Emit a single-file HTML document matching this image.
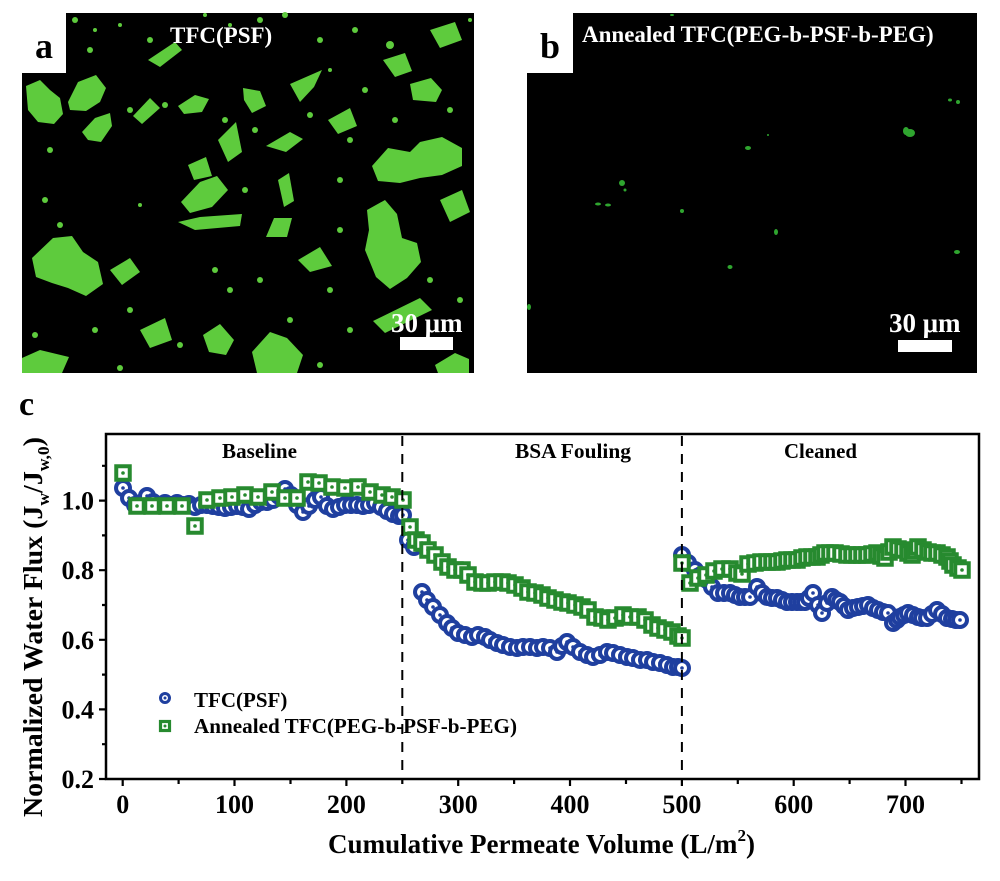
<!DOCTYPE html>
<html><head><meta charset="utf-8"><style>
html,body{margin:0;padding:0;background:#fff}
svg{display:block}
text{font-family:"Liberation Serif","DejaVu Serif",serif;font-weight:bold}
</style></head><body>
<svg width="1000" height="881" viewBox="0 0 1000 881" xmlns="http://www.w3.org/2000/svg">
<defs>
<g id="c"><circle r="7" fill="#fff" stroke="#1f3f9f" stroke-width="4"/><circle r="1.8" fill="#1f3f9f"/></g>
<g id="s"><rect x="-6.75" y="-6.75" width="13.5" height="13.5" fill="#fff" stroke="#278a2f" stroke-width="4"/><circle r="1.8" fill="#278a2f"/></g>
</defs>
<rect width="1000" height="881" fill="#fff"/>

<!-- Panel a -->
<rect x="22" y="13" width="452" height="360" fill="#000"/>
<rect x="22" y="13" width="44" height="60" fill="#fff"/>
<g fill="#5ecb3d">
<polygon points="26,86 40,80 50,90 60,98 63,114 54,124 38,122 28,110"/>
<polygon points="68,102 78,82 96,75 106,88 100,102 86,111 70,110"/>
<polygon points="82,132 95,118 110,113 112,126 101,142 88,140"/>
<polygon points="290,84 322,70 314,87 300,102"/>
<polygon points="243,88 260,91 266,106 252,113 244,100"/>
<polygon points="178,106 195,95 209,99 202,112 184,114"/>
<polygon points="410,84 431,78 442,90 436,102 413,100"/>
<polygon points="372,166 388,148 410,152 420,142 442,137 462,148 462,166 442,175 420,178 400,183 378,181"/>
<polygon points="367,210 385,200 397,214 402,238 417,243 421,262 407,278 390,289 376,277 365,250 369,230"/>
<polygon points="32,258 53,238 72,236 83,252 98,262 103,284 86,296 68,288 52,283 36,277"/>
<polygon points="181,202 200,182 217,176 228,190 212,207 190,213"/>
<polygon points="178,222 200,217 242,214 240,226 195,230"/>
<polygon points="188,165 206,157 212,176 194,180"/>
<polygon points="266,146 290,132 303,139 286,152"/>
<polygon points="266,237 274,218 292,218 287,237"/>
<polygon points="252,352 270,332 287,338 303,355 297,373 257,373"/>
<polygon points="203,335 220,324 234,340 226,355 209,352"/>
<polygon points="22,358 40,350 69,357 62,373 22,373"/>
<polygon points="435,365 455,353 469,359 469,373 438,373"/>
<polygon points="278,180 289,173 294,201 284,207"/>
<polygon points="148,60 175,42 182,50 160,67"/>
<polygon points="383,60 405,53 412,71 395,77"/>
<polygon points="373,321 420,298 432,310 385,333"/>
<polygon points="298,260 320,247 332,266 310,272"/>
<polygon points="218,140 236,122 242,152 228,162"/>
<polygon points="133,116 150,98 160,108 142,124"/>
<polygon points="328,120 350,108 357,126 338,134"/>
<polygon points="110,270 130,258 140,272 122,285"/>
<polygon points="440,200 462,190 470,212 450,222"/>
<polygon points="430,30 455,22 462,40 440,48"/>
<polygon points="140,330 165,318 172,340 150,348"/>
</g>
<g fill="#5ecb3d">
<circle cx="75" cy="20" r="3"/><circle cx="95" cy="30" r="2"/><circle cx="120" cy="25" r="2"/><circle cx="150" cy="40" r="3"/><circle cx="205" cy="15" r="2"/><circle cx="230" cy="25" r="2"/><circle cx="260" cy="20" r="3"/><circle cx="285" cy="15" r="3"/><circle cx="320" cy="40" r="3"/><circle cx="355" cy="30" r="3"/><circle cx="390" cy="45" r="4"/><circle cx="470" cy="20" r="2"/><circle cx="330" cy="70" r="2"/><circle cx="90" cy="50" r="3"/>
<circle cx="50" cy="150" r="3"/><circle cx="45" cy="200" r="3"/><circle cx="130" cy="110" r="3"/><circle cx="165" cy="105" r="3"/><circle cx="225" cy="120" r="3"/><circle cx="255" cy="130" r="3"/><circle cx="310" cy="115" r="3"/><circle cx="350" cy="140" r="3"/><circle cx="365" cy="90" r="3"/><circle cx="395" cy="120" r="3"/><circle cx="450" cy="110" r="3"/><circle cx="340" cy="180" r="3"/><circle cx="245" cy="190" r="3"/><circle cx="140" cy="205" r="2"/>
<circle cx="60" cy="225" r="3"/><circle cx="130" cy="310" r="3"/><circle cx="180" cy="345" r="3"/><circle cx="95" cy="330" r="3"/><circle cx="35" cy="335" r="3"/><circle cx="120" cy="368" r="3"/><circle cx="230" cy="290" r="3"/><circle cx="260" cy="280" r="3"/><circle cx="290" cy="320" r="3"/><circle cx="330" cy="290" r="3"/><circle cx="350" cy="330" r="3"/><circle cx="320" cy="365" r="3"/><circle cx="430" cy="280" r="3"/><circle cx="460" cy="300" r="3"/><circle cx="340" cy="230" r="3"/><circle cx="215" cy="270" r="3"/>
</g>
<text x="35" y="58" font-size="36" fill="#000">a</text>
<text x="170" y="43" font-size="23" fill="#fff">TFC(PSF)</text>
<text x="391" y="332" font-size="27" fill="#fff">30 μm</text>
<rect x="400" y="337" width="53" height="13" fill="#fff"/>

<!-- Panel b -->
<rect x="527" y="13" width="450" height="360" fill="#000"/>
<rect x="527" y="13" width="46" height="60" fill="#fff"/>
<g fill="#2fa52f">
<ellipse cx="910" cy="133" rx="5" ry="4"/><ellipse cx="906" cy="131" rx="3" ry="4"/>
<ellipse cx="748" cy="148" rx="3" ry="2"/>
<ellipse cx="622" cy="183" rx="3" ry="3"/><circle cx="625" cy="190" r="1.5"/>
<ellipse cx="598" cy="204" rx="3" ry="1.5"/><ellipse cx="608" cy="205" rx="3" ry="1.5"/>
<circle cx="682" cy="211" r="2"/><ellipse cx="776" cy="232" rx="2" ry="3"/>
<ellipse cx="730" cy="267" rx="2.5" ry="2"/><ellipse cx="957" cy="252" rx="3" ry="2"/>
<ellipse cx="950" cy="100" rx="2" ry="1.5"/><circle cx="958" cy="102" r="2"/>
<ellipse cx="529" cy="307" rx="2" ry="3"/><ellipse cx="672" cy="15" rx="2" ry="1"/>
<circle cx="688" cy="35" r="1.5"/><circle cx="768" cy="135" r="1"/>
</g>
<text x="540" y="58" font-size="36" fill="#000">b</text>
<text x="582" y="42" font-size="23" fill="#fff">Annealed TFC(PEG-b-PSF-b-PEG)</text>
<text x="889" y="332" font-size="27" fill="#fff">30 μm</text>
<rect x="898" y="340" width="54" height="12" fill="#fff"/>

<!-- Panel c -->
<text x="19" y="415" font-size="34" fill="#000">c</text>
<rect x="106" y="434" width="873" height="345" fill="none" stroke="#000" stroke-width="2.5"/>
<g stroke="#000" stroke-width="2.2">
<path d="M106 779H99M106 709.4H99M106 639.8H99M106 570.2H99M106 500.6H99"/>
<path d="M106 744.2H102M106 674.6H102M106 605H102M106 535.4H102M106 465.8H102"/>
<path d="M122.7 779V786M234.5 779V786M346.4 779V786M458.2 779V786M570 779V786M681.9 779V786M793.7 779V786M905.5 779V786"/>
<path d="M178.6 779V784M290.5 779V784M402.3 779V784M514.1 779V784M626 779V784M737.8 779V784M849.6 779V784M961.5 779V784"/>
</g>
<g font-size="26" fill="#000" text-anchor="end">
<text x="94" y="788">0.2</text><text x="94" y="718.5">0.4</text><text x="94" y="649">0.6</text><text x="94" y="579">0.8</text><text x="94" y="509.5">1.0</text>
</g>
<g font-size="26" fill="#000" text-anchor="middle">
<text x="122.7" y="813">0</text><text x="234.5" y="813">100</text><text x="346.4" y="813">200</text><text x="458.2" y="813">300</text><text x="570" y="813">400</text><text x="681.9" y="813">500</text><text x="793.7" y="813">600</text><text x="905.5" y="813">700</text>
</g>
<g font-size="21" fill="#000">
<text x="222" y="458" textLength="75" lengthAdjust="spacingAndGlyphs">Baseline</text>
<text x="515" y="458" textLength="116" lengthAdjust="spacingAndGlyphs">BSA Fouling</text>
<text x="784" y="458" textLength="73" lengthAdjust="spacingAndGlyphs">Cleaned</text>
</g>
<text x="328" y="853" font-size="27" fill="#000" textLength="427" lengthAdjust="spacingAndGlyphs">Cumulative Permeate Volume (L/m<tspan font-size="17" dy="-12">2</tspan><tspan dy="12">)</tspan></text>
<text transform="translate(42,817) rotate(-90)" font-size="27" fill="#000" textLength="380" lengthAdjust="spacingAndGlyphs">Normalized Water Flux (J<tspan font-size="17" dy="7">w</tspan><tspan dy="-7">/J</tspan><tspan font-size="17" dy="7">w,0</tspan><tspan dy="-7">)</tspan></text>

<!-- blue circles -->
<g>
<use href="#c" x="123" y="488"/><use href="#c" x="129" y="498"/><use href="#c" x="135" y="505"/><use href="#c" x="141" y="503"/><use href="#c" x="147" y="496"/><use href="#c" x="153" y="502"/><use href="#c" x="159" y="505"/><use href="#c" x="165" y="503"/><use href="#c" x="171" y="505"/><use href="#c" x="177" y="503"/><use href="#c" x="183" y="505"/><use href="#c" x="189" y="504"/><use href="#c" x="195" y="507"/><use href="#c" x="201" y="505"/><use href="#c" x="207" y="505"/><use href="#c" x="213" y="506"/><use href="#c" x="219" y="507"/><use href="#c" x="225" y="508"/><use href="#c" x="231" y="507"/><use href="#c" x="237" y="506"/><use href="#c" x="243" y="507"/><use href="#c" x="249" y="509"/><use href="#c" x="255" y="505"/><use href="#c" x="261" y="502"/><use href="#c" x="267" y="502"/><use href="#c" x="273" y="500"/><use href="#c" x="279" y="496"/><use href="#c" x="285" y="489"/><use href="#c" x="291" y="495"/><use href="#c" x="297" y="505"/><use href="#c" x="303" y="512"/><use href="#c" x="309" y="506"/><use href="#c" x="315" y="500"/><use href="#c" x="321" y="497"/><use href="#c" x="327" y="506"/><use href="#c" x="333" y="509"/><use href="#c" x="339" y="507"/><use href="#c" x="345" y="505"/><use href="#c" x="351" y="505"/><use href="#c" x="357" y="505"/><use href="#c" x="363" y="506"/><use href="#c" x="369" y="505"/><use href="#c" x="375" y="503"/><use href="#c" x="381" y="507"/><use href="#c" x="387" y="511"/><use href="#c" x="393" y="514"/><use href="#c" x="399" y="516"/><use href="#c" x="403" y="515"/>
<use href="#c" x="408" y="540"/><use href="#c" x="414" y="547"/><use href="#c" x="422" y="592"/><use href="#c" x="427" y="600"/><use href="#c" x="433" y="607"/><use href="#c" x="440" y="615"/><use href="#c" x="447" y="623"/><use href="#c" x="452" y="628"/><use href="#c" x="458" y="633"/><use href="#c" x="465" y="635"/><use href="#c" x="472" y="637"/><use href="#c" x="478" y="635"/><use href="#c" x="485" y="637"/><use href="#c" x="490" y="640"/><use href="#c" x="497" y="643"/><use href="#c" x="503" y="645"/><use href="#c" x="510" y="647"/><use href="#c" x="517" y="648"/><use href="#c" x="523" y="647"/><use href="#c" x="530" y="647"/><use href="#c" x="537" y="648"/><use href="#c" x="543" y="647"/><use href="#c" x="550" y="648"/><use href="#c" x="557" y="652"/><use href="#c" x="562" y="646"/><use href="#c" x="567" y="642"/><use href="#c" x="573" y="647"/><use href="#c" x="580" y="652"/><use href="#c" x="587" y="655"/><use href="#c" x="593" y="657"/><use href="#c" x="600" y="655"/><use href="#c" x="607" y="652"/><use href="#c" x="613" y="653"/><use href="#c" x="620" y="655"/><use href="#c" x="627" y="657"/><use href="#c" x="633" y="658"/><use href="#c" x="640" y="660"/><use href="#c" x="647" y="660"/><use href="#c" x="653" y="662"/><use href="#c" x="660" y="663"/><use href="#c" x="667" y="665"/><use href="#c" x="673" y="667"/><use href="#c" x="678" y="667"/><use href="#c" x="682" y="668"/>
<use href="#c" x="682" y="555"/><use href="#c" x="688" y="563"/><use href="#c" x="695" y="570"/><use href="#c" x="701" y="575"/><use href="#c" x="707" y="580"/><use href="#c" x="712" y="587"/><use href="#c" x="718" y="593"/><use href="#c" x="724" y="593"/><use href="#c" x="730" y="593"/><use href="#c" x="735" y="595"/><use href="#c" x="740" y="597"/><use href="#c" x="745" y="597"/><use href="#c" x="750" y="597"/><use href="#c" x="757" y="587"/><use href="#c" x="762" y="593"/><use href="#c" x="767" y="597"/><use href="#c" x="772" y="598"/><use href="#c" x="777" y="598"/><use href="#c" x="782" y="600"/><use href="#c" x="787" y="602"/><use href="#c" x="792" y="602"/><use href="#c" x="797" y="602"/><use href="#c" x="801" y="602"/><use href="#c" x="805" y="602"/><use href="#c" x="809" y="598"/><use href="#c" x="813" y="593"/><use href="#c" x="818" y="605"/><use href="#c" x="822" y="613"/><use href="#c" x="827" y="603"/><use href="#c" x="832" y="597"/><use href="#c" x="836" y="600"/><use href="#c" x="840" y="602"/><use href="#c" x="844" y="606"/><use href="#c" x="848" y="610"/><use href="#c" x="853" y="608"/><use href="#c" x="858" y="607"/><use href="#c" x="863" y="606"/><use href="#c" x="868" y="605"/><use href="#c" x="873" y="608"/><use href="#c" x="878" y="610"/><use href="#c" x="883" y="612"/><use href="#c" x="888" y="613"/><use href="#c" x="893" y="623"/><use href="#c" x="897" y="620"/><use href="#c" x="900" y="617"/><use href="#c" x="904" y="615"/><use href="#c" x="908" y="613"/><use href="#c" x="913" y="615"/><use href="#c" x="918" y="617"/><use href="#c" x="922" y="618"/><use href="#c" x="927" y="618"/><use href="#c" x="932" y="614"/><use href="#c" x="937" y="610"/><use href="#c" x="942" y="614"/><use href="#c" x="947" y="618"/><use href="#c" x="952" y="619"/><use href="#c" x="956" y="620"/><use href="#c" x="960" y="620"/>
</g>
<!-- green squares -->
<g>
<use href="#s" x="123" y="473"/><use href="#s" x="137" y="506"/><use href="#s" x="152" y="506"/><use href="#s" x="167" y="506"/><use href="#s" x="182" y="506"/><use href="#s" x="195" y="526"/><use href="#s" x="207" y="500"/><use href="#s" x="220" y="498"/><use href="#s" x="232" y="497"/><use href="#s" x="245" y="495"/><use href="#s" x="258" y="497"/><use href="#s" x="272" y="492"/><use href="#s" x="285" y="498"/><use href="#s" x="297" y="498"/><use href="#s" x="308" y="482"/><use href="#s" x="319" y="483"/><use href="#s" x="332" y="487"/><use href="#s" x="345" y="488"/><use href="#s" x="358" y="487"/><use href="#s" x="370" y="492"/><use href="#s" x="382" y="495"/><use href="#s" x="392" y="497"/><use href="#s" x="403" y="500"/>
<use href="#s" x="410" y="527"/><use href="#s" x="416" y="540"/><use href="#s" x="422" y="543"/><use href="#s" x="428" y="550"/><use href="#s" x="435" y="555"/><use href="#s" x="442" y="562"/><use href="#s" x="448" y="567"/><use href="#s" x="455" y="570"/><use href="#s" x="462" y="570"/><use href="#s" x="468" y="575"/><use href="#s" x="475" y="582"/><use href="#s" x="482" y="583"/><use href="#s" x="488" y="583"/><use href="#s" x="495" y="582"/><use href="#s" x="502" y="582"/><use href="#s" x="508" y="583"/><use href="#s" x="515" y="585"/><use href="#s" x="522" y="588"/><use href="#s" x="528" y="592"/><use href="#s" x="535" y="593"/><use href="#s" x="542" y="595"/><use href="#s" x="548" y="598"/><use href="#s" x="555" y="600"/><use href="#s" x="562" y="602"/><use href="#s" x="568" y="603"/><use href="#s" x="575" y="605"/><use href="#s" x="582" y="607"/><use href="#s" x="588" y="610"/><use href="#s" x="595" y="617"/><use href="#s" x="602" y="618"/><use href="#s" x="608" y="620"/><use href="#s" x="615" y="618"/><use href="#s" x="623" y="615"/><use href="#s" x="630" y="617"/><use href="#s" x="638" y="617"/><use href="#s" x="645" y="620"/><use href="#s" x="652" y="625"/><use href="#s" x="658" y="628"/><use href="#s" x="665" y="630"/><use href="#s" x="672" y="632"/><use href="#s" x="678" y="636"/><use href="#s" x="682" y="638"/>
<use href="#s" x="682" y="563"/><use href="#s" x="690" y="583"/><use href="#s" x="698" y="578"/><use href="#s" x="706" y="575"/><use href="#s" x="714" y="571"/><use href="#s" x="722" y="569"/><use href="#s" x="730" y="569"/><use href="#s" x="737" y="573"/><use href="#s" x="742" y="574"/><use href="#s" x="748" y="564"/><use href="#s" x="755" y="563"/><use href="#s" x="761" y="562"/><use href="#s" x="767" y="562"/><use href="#s" x="772" y="562"/><use href="#s" x="777" y="562"/><use href="#s" x="782" y="561"/><use href="#s" x="787" y="560"/><use href="#s" x="792" y="560"/><use href="#s" x="797" y="560"/><use href="#s" x="802" y="558"/><use href="#s" x="807" y="557"/><use href="#s" x="812" y="557"/><use href="#s" x="817" y="557"/><use href="#s" x="821" y="555"/><use href="#s" x="825" y="553"/><use href="#s" x="830" y="553"/><use href="#s" x="835" y="553"/><use href="#s" x="841" y="554"/><use href="#s" x="847" y="555"/><use href="#s" x="852" y="555"/><use href="#s" x="857" y="555"/><use href="#s" x="862" y="555"/><use href="#s" x="867" y="555"/><use href="#s" x="872" y="554"/><use href="#s" x="877" y="553"/><use href="#s" x="881" y="556"/><use href="#s" x="885" y="558"/><use href="#s" x="889" y="552"/><use href="#s" x="893" y="547"/><use href="#s" x="898" y="549"/><use href="#s" x="903" y="550"/><use href="#s" x="908" y="553"/><use href="#s" x="912" y="555"/><use href="#s" x="915" y="551"/><use href="#s" x="918" y="547"/><use href="#s" x="923" y="550"/><use href="#s" x="928" y="552"/><use href="#s" x="932" y="553"/><use href="#s" x="937" y="553"/><use href="#s" x="942" y="555"/><use href="#s" x="947" y="557"/><use href="#s" x="950" y="561"/><use href="#s" x="953" y="565"/><use href="#s" x="958" y="568"/><use href="#s" x="962" y="570"/>
</g>
<g stroke="#000" stroke-width="2" stroke-dasharray="10,8">
<line x1="402.3" y1="436" x2="402.3" y2="778"/>
<line x1="681.9" y1="436" x2="681.9" y2="778"/>
</g>

<!-- legend -->
<circle cx="165" cy="698" r="4.5" fill="#fff" stroke="#1f3f9f" stroke-width="3"/><circle cx="165" cy="698" r="1.5" fill="#1f3f9f"/>
<rect x="160.5" y="721.5" width="9" height="9" fill="#fff" stroke="#278a2f" stroke-width="3.2"/><circle cx="165" cy="726" r="1.5" fill="#278a2f"/>
<text x="194" y="707" font-size="21" fill="#000">TFC(PSF)</text>
<text x="194" y="733" font-size="21" fill="#000" textLength="323" lengthAdjust="spacingAndGlyphs">Annealed TFC(PEG-b-PSF-b-PEG)</text>
</svg>
</body></html>
